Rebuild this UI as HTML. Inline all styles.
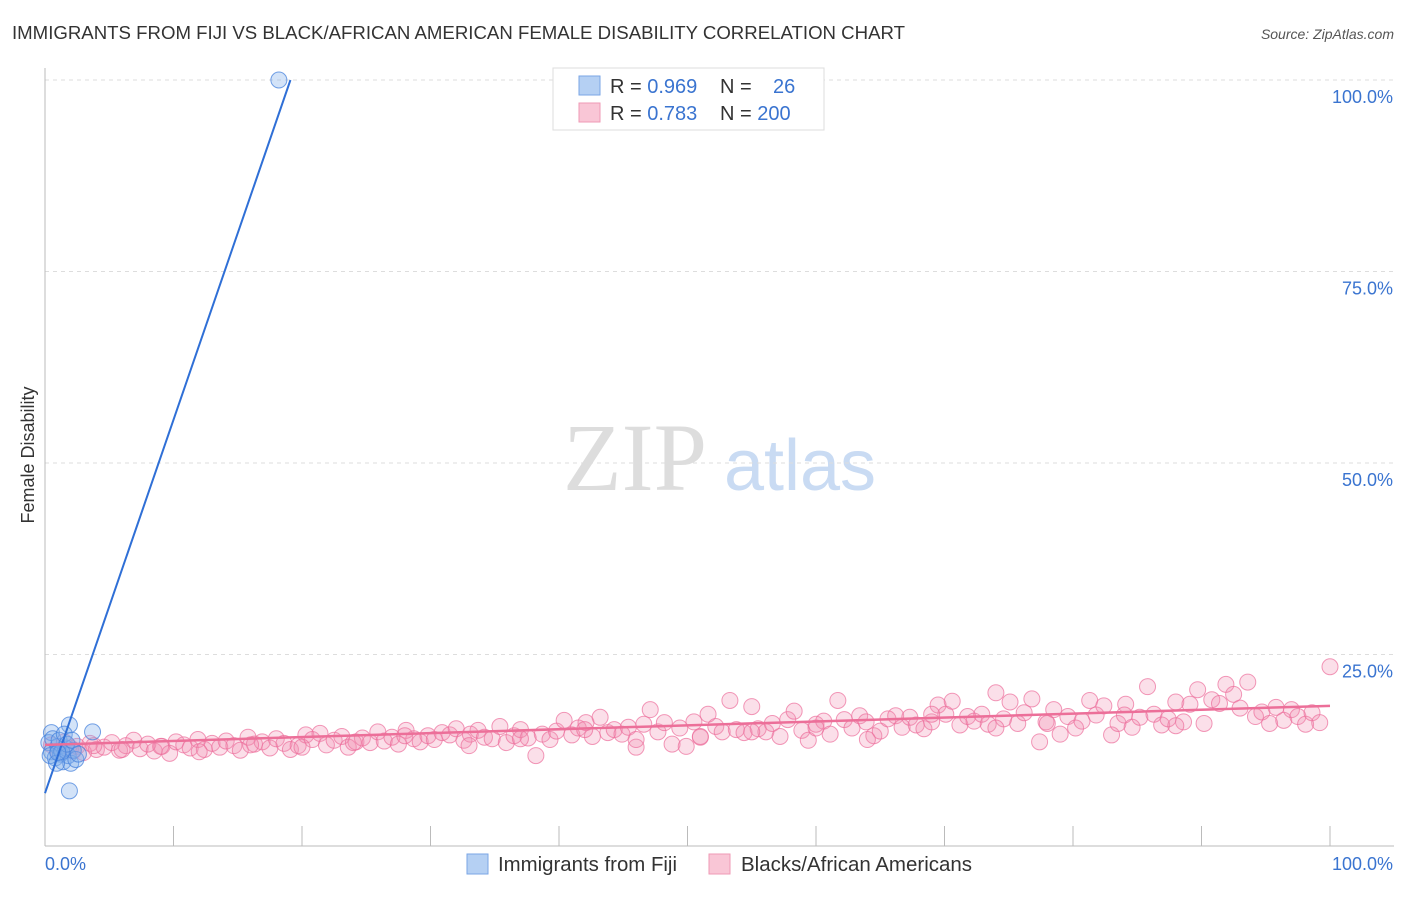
<!DOCTYPE html>
<html><head><meta charset="utf-8"><style>
body{margin:0;background:#fff;font-family:"Liberation Sans",sans-serif}
</style></head><body>
<svg id="chart" width="1406" height="892" xmlns="http://www.w3.org/2000/svg">
<text x="12" y="39" font-size="18" fill="#333" textLength="893" lengthAdjust="spacingAndGlyphs">IMMIGRANTS FROM FIJI VS BLACK/AFRICAN AMERICAN FEMALE DISABILITY CORRELATION CHART</text>
<text x="1394" y="39" font-size="14" font-style="italic" fill="#555" text-anchor="end">Source: ZipAtlas.com</text>
<text x="34" y="455" font-size="18" fill="#333" text-anchor="middle" transform="rotate(-90 34 455)">Female Disability</text>
<g><text x="635" y="490" font-size="96" font-family="Liberation Serif,serif" fill="#ddd" text-anchor="middle">ZIP</text><text x="800" y="490" font-size="72" fill="#c9dbf3" text-anchor="middle">atlas</text></g>
<g id="grid"></g><g id="axes"></g><g id="pts"></g><g id="lines"></g>
<g>
<rect x="553" y="68" width="271" height="62" fill="#fff" stroke="#ddd"/>
<rect x="579" y="76" width="21" height="19" fill="#b5d0f3" stroke="#7aa6e6"/>
<rect x="579" y="103" width="21" height="19" fill="#f9c6d6" stroke="#ef9ab5"/>
<text x="610" y="93" font-size="20" fill="#333">R = <tspan fill="#3a74d0">0.969</tspan></text>
<text x="720" y="93" font-size="20" fill="#333">N = <tspan fill="#3a74d0" x="773">26</tspan></text>
<text x="610" y="120" font-size="20" fill="#333">R = <tspan fill="#3a74d0">0.783</tspan></text>
<text x="720" y="120" font-size="20" fill="#333">N = <tspan fill="#3a74d0">200</tspan></text>
</g>
<g>
<rect x="467" y="854" width="21" height="20" fill="#b5d0f3" stroke="#7aa6e6"/>
<text x="498" y="871" font-size="20" fill="#333" textLength="179" lengthAdjust="spacingAndGlyphs">Immigrants from Fiji</text>
<rect x="709" y="854" width="21" height="20" fill="#f9c6d6" stroke="#ef9ab5"/>
<text x="741" y="871" font-size="20" fill="#333" textLength="231" lengthAdjust="spacingAndGlyphs">Blacks/African Americans</text>
</g>
</svg>
<script>
const yTicks=[25,50,75,100];
const yTickLabels=["25.0%","50.0%","75.0%","100.0%"];
const xTickLabels=["0.0%","100.0%"];
const fijiX=[18.2,1.9,3.7,1.9,0.5,0.3,0.5,0.8,1.0,1.2,1.4,1.6,1.8,2.0,2.2,0.6,1.1,1.5,2.4,0.4,1.3,1.7,0.9,2.1,1.0,2.6];
const fijiY=[100,7.2,14.9,15.8,14.8,13.5,12.3,11.5,13.0,12.0,11.0,12.8,11.8,10.8,12.5,14.0,13.8,14.6,11.3,11.8,12.3,13.3,10.8,13.8,12.2,12.0];
const blackX=[0.5,1,1.5,2,2.5,3,3.5,4,4.6,5.2,5.8,6.3,6.9,7.4,8,8.5,9.1,9.7,10.2,10.8,11.3,11.9,12.4,13,13.6,14.1,14.7,15.2,15.8,16.3,16.9,17.5,18,18.6,19.1,19.7,20.3,20.8,21.4,21.9,22.5,23.1,23.6,24.2,24.7,25.3,25.9,26.4,27,27.5,28.1,28.7,29.2,29.8,30.3,30.9,31.5,32,32.6,33.1,33.7,34.2,34.8,35.4,35.9,36.5,37,37.6,38.2,38.7,39.3,39.8,40.4,41,41.5,42.1,42.6,43.2,43.8,44.3,44.9,45.4,46,46.6,47.1,47.7,48.2,48.8,49.4,49.9,50.5,51,51.6,52.2,52.7,53.3,53.8,54.4,55,55.5,56.1,56.6,57.2,57.8,58.3,58.9,59.4,60,60.6,61.1,61.7,62.2,62.8,63.4,63.9,64.5,65,65.6,66.2,66.7,67.3,67.8,68.4,69,69.5,70.1,70.6,71.2,71.8,72.3,72.9,73.4,74,74.6,75.1,75.7,76.2,76.8,77.4,77.9,78.5,79,79.6,80.2,80.7,81.3,81.8,82.4,83,83.5,84.1,84.6,85.2,85.8,86.3,86.9,87.4,88,88.6,89.1,89.7,90.2,90.8,91.4,91.9,92.5,93,93.6,94.2,94.7,95.3,95.8,96.4,97,97.5,98.1,98.6,99.2,100,2.2,3.8,6,9,12,16,20,24,28,33,37,42,46,51,55,60,64,69,74,78,84,88];
const blackY=[13.2,12.4,13.6,12.8,13.0,12.2,13.4,12.6,12.9,13.5,12.5,13.1,13.8,12.7,13.3,12.4,13.0,12.1,13.6,13.2,12.8,13.9,12.6,13.4,12.9,13.7,13.1,12.5,14.2,13.3,13.6,12.8,14.0,13.4,12.6,13.1,14.5,13.9,14.7,13.2,13.8,14.3,12.9,13.6,14.1,13.5,14.9,13.7,14.2,13.3,15.1,14.0,13.6,14.4,13.9,14.8,14.5,15.3,13.8,14.6,15.1,14.2,14.0,15.6,13.5,14.4,15.2,14.1,11.8,14.6,13.9,15.0,16.4,14.5,15.4,16.1,14.3,16.8,14.8,15.2,14.6,15.5,12.9,15.9,17.8,14.9,16.1,13.3,15.4,13.0,16.2,14.2,17.2,15.6,14.9,19.0,15.2,14.8,18.2,15.3,14.9,16.0,14.3,16.5,17.6,15.1,13.8,15.9,16.3,14.6,19.0,16.5,15.4,17.0,16.2,14.4,15.0,16.6,17.0,15.5,16.8,15.8,15.3,16.2,18.4,17.2,18.9,15.8,16.9,16.3,17.2,15.9,20.0,16.6,18.8,16.0,17.4,19.2,13.6,16.2,17.8,14.6,16.9,15.4,16.3,19.0,17.1,18.3,14.5,16.0,18.5,15.5,16.8,20.8,17.2,15.8,16.6,18.8,16.2,18.5,20.4,16.0,19.1,18.6,21.1,19.8,18.0,21.4,16.9,17.5,16.0,18.1,16.4,17.8,16.9,15.9,17.4,16.1,23.4,12.4,13.1,12.6,13.0,12.3,13.2,12.9,13.5,14.4,13.1,14.0,15.2,13.9,14.3,14.9,15.4,13.9,17.2,15.4,16.0,17.1,15.7];
const X0=45,X1=1330,Y0=846,Y100=80;
const sx=v=>X0+(X1-X0)*v/100, sy=v=>Y0-(Y0-Y100)*v/100;
const NS="http://www.w3.org/2000/svg";
function mk(t,a,p){const e=document.createElementNS(NS,t);for(const k in a)e.setAttribute(k,a[k]);document.getElementById(p).appendChild(e);return e;}
yTicks.forEach((t,i)=>{
 const l=mk('line',{x1:X0,x2:1394,y1:sy(t),y2:sy(t),stroke:'#ddd','stroke-dasharray':'4,4'},'grid');
 
 
 const tx=mk('text',{x:1393,y:sy(t)+23,'font-size':18,fill:'#3a74d0','text-anchor':'end'},'axes');
 tx.textContent=yTickLabels[i];
 
 
});
const ax=mk('line',{x1:X0,x2:X0,y1:68,y2:Y0,stroke:'#bbb'},'axes');


const bx=mk('line',{x1:X0,x2:1394,y1:Y0,y2:Y0,stroke:'#bbb'},'axes');


for(let i=1;i<=10;i++){const t=mk('line',{x1:sx(i*10),x2:sx(i*10),y1:826,y2:Y0,stroke:'#bbb'},'axes');
 
 }
const xl0=mk('text',{x:45,y:870,'font-size':18,fill:'#3a74d0'},'axes');xl0.textContent=xTickLabels[0];


const xl1=mk('text',{x:1393,y:870,'font-size':18,fill:'#3a74d0','text-anchor':'end'},'axes');xl1.textContent=xTickLabels[1];


const nB=Math.min(blackX.length,blackY.length);
for(let i=0;i<nB;i++){const c=mk('circle',{cx:sx(blackX[i]),cy:sy(blackY[i]),r:8,fill:'rgba(242,140,175,0.28)',stroke:'rgba(236,110,155,0.7)'},'pts');
 
 }
fijiX.forEach((x,i)=>{const c=mk('circle',{cx:sx(x),cy:sy(fijiY[i]),r:8,fill:'rgba(130,175,235,0.35)',stroke:'rgba(70,130,220,0.75)'},'pts');
 
 });
const l1=mk('line',{x1:sx(0),y1:sy(6.9),x2:sx(19.1),y2:sy(100),stroke:'#2f6fd6','stroke-width':2},'lines');


const l2=mk('line',{x1:sx(0),y1:sy(13.2),x2:sx(100),y2:sy(18.3),stroke:'#ec6f99','stroke-width':2.5},'lines');


</script>
</body></html>
